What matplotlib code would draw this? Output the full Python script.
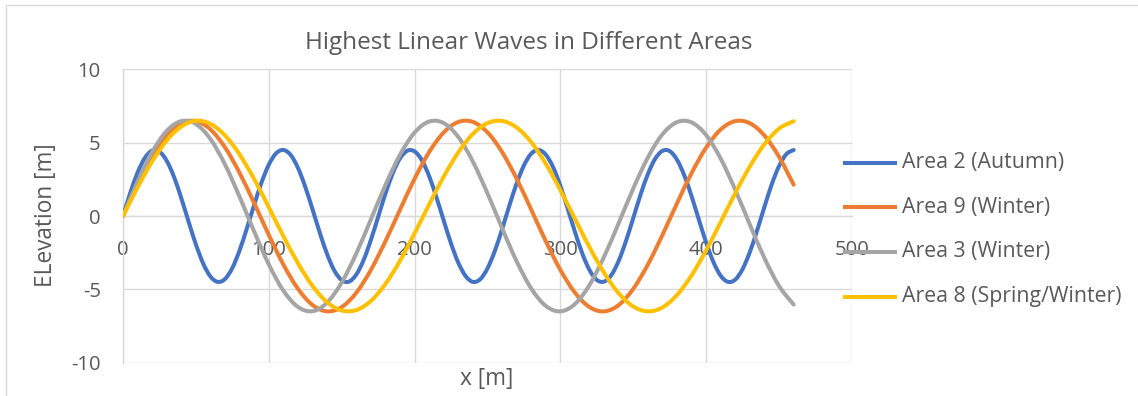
import matplotlib
matplotlib.use("Agg")
import numpy as np
import matplotlib.pyplot as plt
from matplotlib.path import Path
from matplotlib.patches import PathPatch, Rectangle
from matplotlib.lines import Line2D

plt.rcParams['font.family'] = ['Open Sans', 'DejaVu Sans']
plt.rcParams['axes.unicode_minus'] = False

# surface elevation along the wave, sampled every 5 m (Area 2) and every 10 m (others)
x_fine = list(range(0, 461, 5))
x_coarse = list(range(0, 461, 10))

area2_autumn = [
    0.00, 1.58, 2.96, 3.96, 4.46, 4.39, 3.76, 2.66, 1.21, -0.39,
    -1.94, -3.24, -4.13, -4.49, -4.29, -3.54, -2.33, -0.83, 0.77, 2.28,
    3.50, 4.27, 4.50, 4.16, 3.28, 1.99, 0.45, -1.15, -2.60, -3.73,
    -4.37, -4.47, -3.99, -3.01, -1.64, -0.06, 1.52, 2.91, 3.93, 4.45,
    4.40, 3.80, 2.71, 1.27, -0.32, -1.88, -3.19, -4.10, -4.49, -4.31,
    -3.57, -2.39, -0.90, 0.71, 2.22, 3.45, 4.25, 4.50, 4.18, 3.33,
    2.05, 0.51, -1.09, -2.55, -3.69, -4.36, -4.47, -4.02, -3.05, -1.70,
    -0.13, 1.46, 2.86, 3.90, 4.44, 4.42, 3.83, 2.76, 1.34, -0.26,
    -1.82, -3.15, -4.08, -4.49, -4.33, -3.61, -2.44, -0.96, 0.64, 2.17,
    3.41, 4.22, 4.50,
]

area9_winter = [
    0.00, 2.13, 4.03, 5.48, 6.32, 6.47, 5.90, 4.67, 2.93, 0.87,
    -1.29, -3.31, -4.96, -6.07, -6.50, -6.21, -5.23, -3.68, -1.72, 0.43,
    2.54, 4.36, 5.70, 6.41, 6.41, 5.70, 4.36, 2.54, 0.43, -1.72,
    -3.68, -5.23, -6.21, -6.50, -6.07, -4.96, -3.31, -1.29, 0.87, 2.93,
    4.67, 5.90, 6.47, 6.32, 5.48, 4.03, 2.13,
]

area3_winter = [
    0.00, 2.34, 4.36, 5.80, 6.47, 6.27, 5.24, 3.51, 1.30, -1.07,
    -3.30, -5.09, -6.20, -6.49, -5.90, -4.53, -2.56, -0.24, 2.11, 4.18,
    5.69, 6.44, 6.33, 5.38, 3.70, 1.54, -0.83, -3.09, -4.94, -6.13,
    -6.50, -6.00, -4.70, -2.77, -0.48, 1.88, 3.99, 5.57, 6.40, 6.38,
    5.51, 3.90, 1.77, -0.60, -2.88, -4.78, -6.04,
]

area8_spring_winter = [
    0.00, 1.95, 3.72, 5.15, 6.10, 6.49, 6.28, 5.49, 4.19, 2.51,
    0.59, -1.38, -3.22, -4.77, -5.88, -6.44, -6.41, -5.79, -4.63, -3.05,
    -1.18, 0.79, 2.69, 4.34, 5.60, 6.33, 6.48, 6.03, 5.03, 3.56,
    1.76, -0.20, -2.14, -3.88, -5.27, -6.17, -6.50, -6.23, -5.38, -4.04,
    -2.33, -0.40, 1.57, 3.39, 4.90, 5.96, 6.46,
]

labels = ["Area 2 (Autumn)", "Area 9 (Winter)", "Area 3 (Winter)", "Area 8 (Spring/Winter)"]
colors = ["#4472C4", "#ED7D31", "#A5A5A5", "#FFC000"]
xs_all = [x_fine, x_coarse, x_coarse, x_coarse]
ys_all = [area2_autumn, area9_winter, area3_winter, area8_spring_winter]

text_col = "#595959"
grid_col = "#D9D9D9"


def smooth_path(xs, ys):
    # Catmull-Rom style bezier through the points (like a "smoothed line" in a spreadsheet)
    pts = np.column_stack([xs, ys]).astype(float)
    n = len(pts)
    verts = [pts[0]]
    codes = [Path.MOVETO]
    for i in range(n - 1):
        p0 = pts[i - 1] if i > 0 else pts[i]
        p1, p2 = pts[i], pts[i + 1]
        p3 = pts[i + 2] if i + 2 < n else pts[i + 1]
        verts += [p1 + (p2 - p0) / 6, p2 - (p3 - p1) / 6, p2]
        codes += [Path.CURVE4] * 3
    return Path(verts, codes)


W, H = 1138, 396
fig = plt.figure(figsize=(W / 100, H / 100), dpi=100)
# outer chart border
fig.add_artist(Rectangle((6 / W, -0.05), 1.1, (1 - 5 / H) + 0.05, transform=fig.transFigure,
                         fill=False, edgecolor=grid_col, lw=1))

ax = fig.add_axes([123 / W, 1 - 362.7 / H, (852 - 123) / W, (362.7 - 69.3) / H])

for xs, ys, col in zip(xs_all, ys_all, colors):
    ax.add_patch(PathPatch(smooth_path(xs, ys), facecolor='none', edgecolor=col, lw=2.9,
                           capstyle='round', joinstyle='round', zorder=3))

ax.set_xlim(0, 500)
ax.set_ylim(-10, 10)
ax.set_xticks(range(0, 501, 100))
ax.set_yticks(range(-10, 11, 5))
ax.grid(True, color=grid_col, lw=1.0, zorder=0)
ax.set_axisbelow(True)

for s in ['top', 'right']:
    ax.spines[s].set_visible(False)
ax.spines['left'].set_color(grid_col)
ax.spines['left'].set_linewidth(1.0)
# horizontal axis sits on y = 0
ax.spines['bottom'].set_position(('data', 0))
ax.spines['bottom'].set_color(grid_col)
ax.spines['bottom'].set_linewidth(1.0)
ax.tick_params(length=0, labelsize=14.6, colors=text_col)
ax.tick_params(axis='x', pad=17.5)
ax.tick_params(axis='y', pad=16)

fig.text(529 / W, 1 - 43 / H, "Highest Linear Waves in Different Areas", ha='center', va='center',
         fontsize=17.5, color=text_col)
fig.text(487 / W, 1 - 379 / H, "x [m]", ha='center', va='center', fontsize=16.3, color=text_col)
fig.text(46 / W, 1 - 215 / H, "ELevation [m]", ha='center', va='center', rotation=90,
         fontsize=16.3, color=text_col)

# legend on the right
leg_y = [162.7, 207.3, 252.0, 296.7]
for lab, col, yy in zip(labels, colors, leg_y):
    fig.add_artist(Line2D([843 / W, 897 / W], [1 - yy / H, 1 - yy / H], color=col, lw=2.9,
                          solid_capstyle='butt', transform=fig.transFigure))
    fig.text(902 / W, 1 - yy / H, lab, ha='left', va='center', fontsize=15.3, color=text_col)

fig.savefig("out.png", dpi=100)
